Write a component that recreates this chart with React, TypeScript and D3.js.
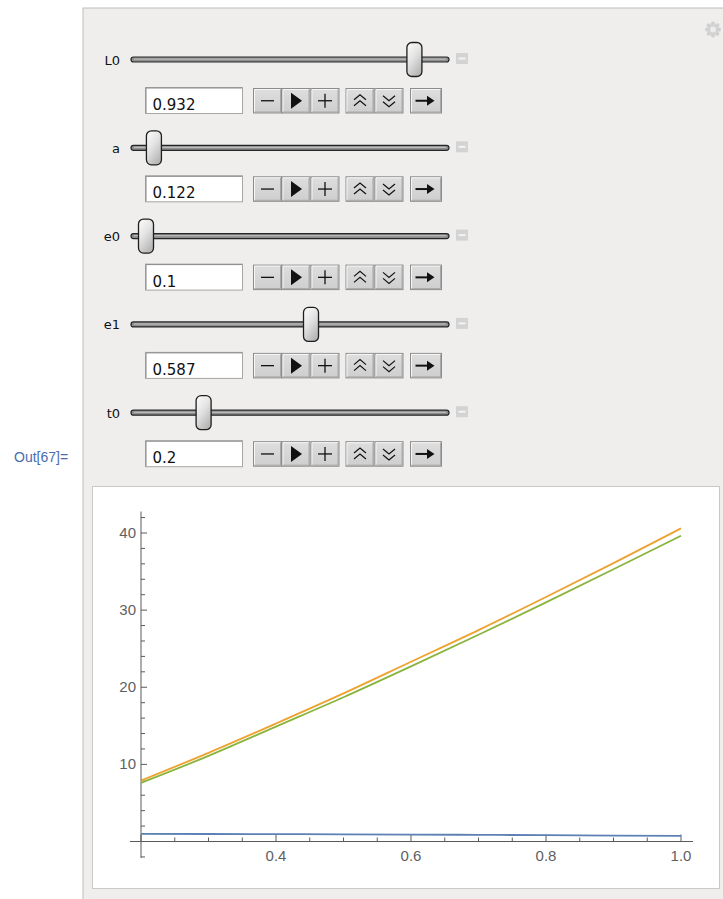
import React from 'react';
import * as d3 from 'd3';

// ---- data ----
const tValues = [0.2, 0.3, 0.4, 0.5, 0.6, 0.7, 0.8, 0.9, 1.0];
const orangeSeries = [7.9, 11.5, 15.3, 19.2, 23.3, 27.4, 31.7, 36.1, 40.6];
const greenSeries = [7.6, 11.1, 14.9, 18.7, 22.7, 26.8, 31.0, 35.3, 39.65];
const blueSeries = [0.98, 0.97, 0.95, 0.93, 0.9, 0.86, 0.82, 0.77, 0.73];
const xTickLabels = [0.4, 0.6, 0.8, 1.0];
const yTickLabels = [10, 20, 30, 40];
const sliderNames = ['L0', 'a', 'e0', 'e1', 't0'];
const sliderValues = [0.932, 0.122, 0.1, 0.587, 0.2];
const sliderTexts = ['0.932', '0.122', '0.1', '0.587', '0.2'];
const sliderMins = [0, 0.1, 0.1, 0.1, 0];
const sliderMaxs = [1, 0.9, 1, 0.95, 1];
const outLabel = 'Out[67]=';

const COLORS = { blue: '#5E81B5', orange: '#EFA12E', green: '#8AB43C' };

const W = 723;
const H = 899;

const x = d3.scaleLinear().domain([0.2, 1.0]).range([141, 681]);
const y = d3.scaleLinear().domain([0, 40]).range([841.5, 533]);

const line = d3
  .line<number>()
  .x((_, i) => x(tValues[i]))
  .y((d) => y(d))
  .curve(d3.curveMonotoneX);

function Button({ x0, x1, top, children }: { x0: number; x1: number; top: number; children?: React.ReactNode }) {
  const h = 24.5;
  return (
    <g>
      <rect x={x0} y={top} width={x1 - x0} height={h} fill="url(#btnGrad)" stroke="#8c8c8c" strokeWidth={1} />
      <line x1={x0 + 1} y1={top + 1} x2={x1 - 1} y2={top + 1} stroke="#f6f6f6" strokeWidth={1} />
      <line x1={x0 + 1} y1={top + 1} x2={x0 + 1} y2={top + h - 1} stroke="#f6f6f6" strokeWidth={1} />
      <line x1={x0 + 1} y1={top + h - 1} x2={x1 - 1} y2={top + h - 1} stroke="#a8a8a8" strokeWidth={1} />
      <line x1={x1 - 1} y1={top + 1} x2={x1 - 1} y2={top + h - 1} stroke="#a8a8a8" strokeWidth={1} />
      {children}
    </g>
  );
}

function SliderRow({ i }: { i: number }) {
  const ty = 59.5 + i * 88.3;
  const frac = (sliderValues[i] - sliderMins[i]) / (sliderMaxs[i] - sliderMins[i]);
  const thumbScale = d3.scaleLinear().domain([0, 1]).range([146, 434]);
  const cx = thumbScale(frac);
  const btop = ty + 29;
  const cy = btop + 12.25;
  return (
    <g>
      <text x={120} y={ty + 5} textAnchor="end" fontFamily="DejaVu Sans, sans-serif" fontSize={13} fill="#111">
        {sliderNames[i]}
      </text>
      {/* track */}
      <rect x={131} y={ty - 2.5} width={318} height={5} rx={2.5} fill="#8e8e8e" stroke="#262626" strokeWidth={1.2} />
      <line x1={134} y1={ty - 0.4} x2={446} y2={ty - 0.4} stroke="#c4c4c4" strokeWidth={1} />
      {/* thumb */}
      <rect x={cx - 7.5} y={ty - 17} width={15} height={34} rx={5} fill="url(#thumbGrad)" stroke="#1e1e1e" strokeWidth={1.3} />
      {/* small square */}
      <rect x={456} y={ty - 6.5} width={12} height={11} fill="#d3d3d3" />
      <line x1={458.5} y1={ty - 1} x2={465.5} y2={ty - 1} stroke="#f4f4f4" strokeWidth={2} />
      {/* input */}
      <rect x={145.5} y={ty + 28} width={97} height={26} fill="#ffffff" stroke="#a6a6a6" strokeWidth={1} />
      <line x1={146} y1={ty + 28.5} x2={242} y2={ty + 28.5} stroke="#8a8a8a" strokeWidth={1} />
      <line x1={146} y1={ty + 28.5} x2={146} y2={ty + 53.5} stroke="#8a8a8a" strokeWidth={1} />
      <text x={152.5} y={ty + 50.5} fontFamily="DejaVu Sans, sans-serif" fontSize={15} fill="#111">
        {sliderTexts[i]}
      </text>
      {/* buttons */}
      <Button x0={253.5} x1={281.5} top={btop}>
        <line x1={261} y1={cy} x2={274} y2={cy} stroke="#111" strokeWidth={1.3} />
      </Button>
      <Button x0={282} x1={310} top={btop}>
        <polygon points={`${291},${cy - 8} ${291},${cy + 8} ${302},${cy}`} fill="#111" />
      </Button>
      <Button x0={311} x1={339} top={btop}>
        <line x1={318} y1={cy} x2={332} y2={cy} stroke="#111" strokeWidth={1.3} />
        <line x1={325} y1={cy - 7} x2={325} y2={cy + 7} stroke="#111" strokeWidth={1.3} />
      </Button>
      <Button x0={346} x1={374} top={btop}>
        <polyline points={`${354},${cy - 1} ${360},${cy - 6} ${366},${cy - 1}`} fill="none" stroke="#111" strokeWidth={1.2} />
        <polyline points={`${354},${cy + 5} ${360},${cy} ${366},${cy + 5}`} fill="none" stroke="#111" strokeWidth={1.2} />
      </Button>
      <Button x0={375} x1={403} top={btop}>
        <polyline points={`${383},${cy - 5} ${389},${cy} ${395},${cy - 5}`} fill="none" stroke="#111" strokeWidth={1.2} />
        <polyline points={`${383},${cy + 1} ${389},${cy + 6} ${395},${cy + 1}`} fill="none" stroke="#111" strokeWidth={1.2} />
      </Button>
      <Button x0={410.5} x1={441.5} top={btop}>
        <line x1={415.5} y1={cy} x2={428} y2={cy} stroke="#111" strokeWidth={2} />
        <polygon points={`${427},${cy - 5} ${434.5},${cy} ${427},${cy + 5}`} fill="#111" />
      </Button>
    </g>
  );
}

export default function App() {
  const yMinor = d3.range(-2, 43, 2);
  const xMinor = d3.range(0.2, 1.0001, 0.05);
  const axisColor = '#5a5a5a';
  const labelColor = '#5f5f5f';
  const gearAngles = d3.range(0, 360, 45);
  return (
    <svg width={W} height={H} style={{ position: 'absolute', left: 0, top: 0 }} xmlns="http://www.w3.org/2000/svg">
      <defs>
        <linearGradient id="thumbGrad" x1="0" y1="0" x2="0.6" y2="1">
          <stop offset="0" stopColor="#fdfdfd" />
          <stop offset="0.5" stopColor="#e4e4e4" />
          <stop offset="1" stopColor="#b8b8b8" />
        </linearGradient>
        <linearGradient id="btnGrad" x1="0" y1="0" x2="0" y2="1">
          <stop offset="0" stopColor="#dedede" />
          <stop offset="1" stopColor="#cecece" />
        </linearGradient>
      </defs>
      <rect x={0} y={0} width={W} height={H} fill="#ffffff" />
      {/* panel */}
      <rect x={83} y={8} width={W - 83 + 2} height={H} fill="#efeeed" stroke="#bdbdbd" strokeWidth={1} />
      {/* gear */}
      <g transform="translate(713,29.5)">
        {gearAngles.map((a) => (
          <circle
            key={a}
            cx={6 * Math.cos((a * Math.PI) / 180)}
            cy={6 * Math.sin((a * Math.PI) / 180)}
            r={2}
            fill="#cfcfcf"
          />
        ))}
        <circle r={5.5} fill="#d2d2d2" />
        <circle r={3} fill="#ececec" />
      </g>
      <text x={14} y={461.5} fontFamily="Liberation Sans, Arial, sans-serif" fontSize={14} fill="#4a6bb0">
        {outLabel}
      </text>
      {sliderNames.map((_, i) => (
        <SliderRow key={i} i={i} />
      ))}
      {/* plot box */}
      <rect x={92.5} y={486.5} width={627} height={402} fill="#ffffff" stroke="#c9c9c9" strokeWidth={1} />
      {/* axes */}
      <line x1={130} y1={y(0)} x2={693} y2={y(0)} stroke={axisColor} strokeWidth={1} />
      <line x1={x(0.2)} y1={511.5} x2={x(0.2)} y2={858} stroke={axisColor} strokeWidth={1} />
      {yMinor.map((v) => (
        <line
          key={'ym' + v}
          x1={x(0.2)}
          x2={x(0.2) + (v % 10 === 0 ? 6 : 4)}
          y1={y(v)}
          y2={y(v)}
          stroke={axisColor}
          strokeWidth={1}
        />
      ))}
      {xMinor.map((v, i) => (
        <line
          key={'xm' + i}
          x1={x(v)}
          x2={x(v)}
          y1={y(0)}
          y2={y(0) - (i % 4 === 0 ? 7 : 4)}
          stroke={axisColor}
          strokeWidth={1}
        />
      ))}
      {yTickLabels.map((v) => (
        <text
          key={'yl' + v}
          x={136}
          y={y(v) + 5}
          textAnchor="end"
          fontFamily="Liberation Sans, Arial, sans-serif"
          fontSize={15}
          fill={labelColor}
        >
          {v}
        </text>
      ))}
      {xTickLabels.map((v) => (
        <text
          key={'xl' + v}
          x={x(v)}
          y={860.5}
          textAnchor="middle"
          fontFamily="Liberation Sans, Arial, sans-serif"
          fontSize={15}
          fill={labelColor}
        >
          {v.toFixed(1)}
        </text>
      ))}
      {/* series */}
      <path d={line(blueSeries) || ''} fill="none" stroke={COLORS.blue} strokeWidth={1.8} />
      <path d={line(orangeSeries) || ''} fill="none" stroke={COLORS.orange} strokeWidth={1.8} />
      <path d={line(greenSeries) || ''} fill="none" stroke={COLORS.green} strokeWidth={1.8} />
    </svg>
  );
}
